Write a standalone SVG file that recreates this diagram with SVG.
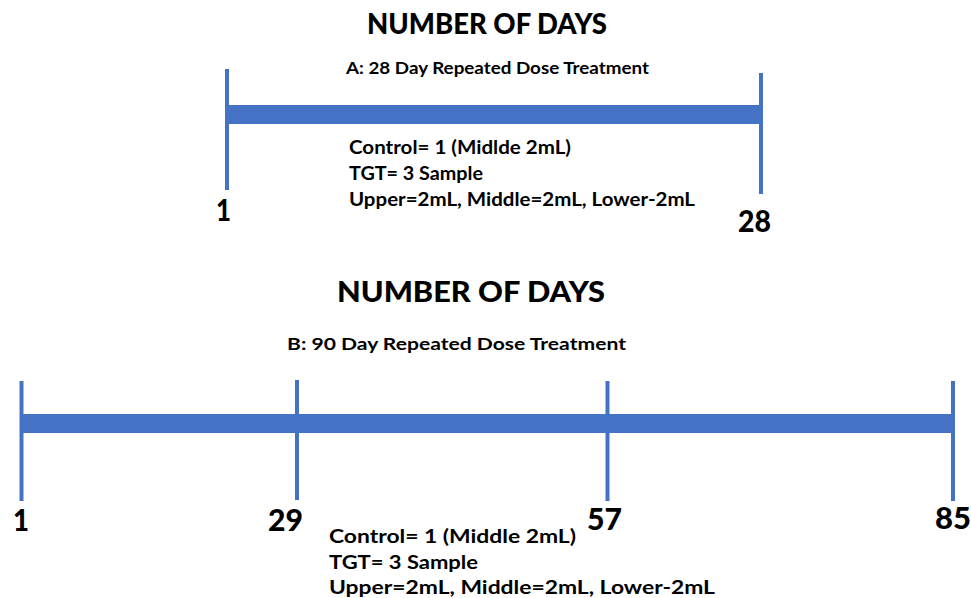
<svg xmlns="http://www.w3.org/2000/svg" width="971" height="598" viewBox="0 0 971 598">
<style>
text{font-family:Lato,"Open Sans","Liberation Sans",sans-serif;font-weight:700;fill:#000}
.title{font-size:28px;font-weight:900}
.sub{font-size:17.5px}
.body{font-size:18.5px}
.num{font-size:31px;font-weight:900}
.tick{stroke:#4472C4;stroke-width:4}
.bar{fill:#4472C4}
</style>
<rect width="971" height="598" fill="#fff"/>
<g id="timelineA">
<g id="connectors-A">
<rect class="bar" x="227" y="105" width="534" height="19"/>
<line class="tick" x1="227" y1="69" x2="227" y2="190"/>
<line class="tick" x1="761" y1="73" x2="761" y2="194"/>
</g>
<g id="titleA"><text class="title" x="367" y="34" textLength="240" lengthAdjust="spacingAndGlyphs">NUMBER OF DAYS</text></g>
<g id="subA"><text class="sub" x="346" y="74" textLength="303" lengthAdjust="spacingAndGlyphs">A: 28 Day Repeated Dose Treatment</text></g>
<g id="labelA1"><text class="num" x="216" y="221" textLength="15" lengthAdjust="spacingAndGlyphs">1</text></g>
<g id="labelA28"><text class="num" x="738" y="232" textLength="33" lengthAdjust="spacingAndGlyphs">28</text></g>
<g id="notesA">
<text class="body" x="349" y="154" textLength="222" lengthAdjust="spacingAndGlyphs">Control= 1 (Midlde 2mL)</text>
<text class="body" x="349" y="180" textLength="134" lengthAdjust="spacingAndGlyphs">TGT= 3 Sample</text>
<text class="body" x="349" y="206" textLength="346" lengthAdjust="spacingAndGlyphs">Upper=2mL, Middle=2mL, Lower-2mL</text>
</g>
</g>
<g id="timelineB">
<g id="connectors-B">
<rect class="bar" x="21" y="414" width="932" height="19"/>
<line class="tick" x1="21.5" y1="381" x2="21.5" y2="501"/>
<line class="tick" x1="297" y1="380" x2="297" y2="500"/>
<line class="tick" x1="607.5" y1="381" x2="607.5" y2="501"/>
<line class="tick" x1="953" y1="381" x2="953" y2="501"/>
</g>
<g id="titleB"><text class="title" x="337" y="302" textLength="268" lengthAdjust="spacingAndGlyphs">NUMBER OF DAYS</text></g>
<g id="subB"><text class="sub" x="287" y="350" textLength="339" lengthAdjust="spacingAndGlyphs">B: 90 Day Repeated Dose Treatment</text></g>
<g id="labelB1"><text class="num" x="13" y="531" textLength="16" lengthAdjust="spacingAndGlyphs">1</text></g>
<g id="labelB29"><text class="num" x="268" y="531" textLength="35" lengthAdjust="spacingAndGlyphs">29</text></g>
<g id="labelB57"><text class="num" x="587" y="530" textLength="35" lengthAdjust="spacingAndGlyphs">57</text></g>
<g id="labelB85"><text class="num" x="935" y="529" textLength="36" lengthAdjust="spacingAndGlyphs">85</text></g>
<g id="notesB">
<text class="body" x="329" y="543" textLength="247" lengthAdjust="spacingAndGlyphs">Control= 1 (Middle 2mL)</text>
<text class="body" x="329" y="569" textLength="149" lengthAdjust="spacingAndGlyphs">TGT= 3 Sample</text>
<text class="body" x="329" y="594" textLength="386" lengthAdjust="spacingAndGlyphs">Upper=2mL, Middle=2mL, Lower-2mL</text>
</g>
</g>
</svg>
